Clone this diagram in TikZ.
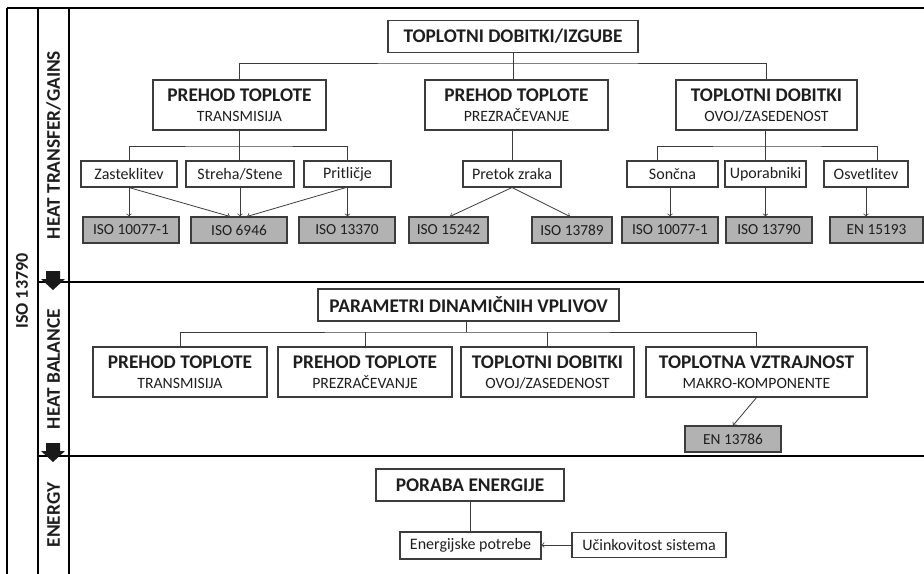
\documentclass[tikz,border=0pt]{standalone}
\usepackage{fontspec}
\setmainfont{Carlito}
\usetikzlibrary{calc}

\newlength{\upx}
\setlength{\upx}{0.75pt}
\newcommand{\subtxt}{\fontsize{11.8}{13}\selectfont\mdseries}

\definecolor{isogray}{RGB}{178,178,178}
\definecolor{edgegray}{RGB}{60,60,60}
\definecolor{inkgray}{RGB}{30,30,30}

\tikzset{
  headbox/.style={draw=edgegray, line width=0.8pt, inner sep=0pt, text=inkgray,
    minimum width=#1\upx, minimum height=32\upx, font=\fontsize{14.5}{16}\selectfont\bfseries},
  bigbox/.style={draw=edgegray, line width=0.8pt, inner sep=0pt, align=center, text=inkgray,
    minimum width=#1\upx, minimum height=50\upx, font=\fontsize{14.5}{16}\selectfont\bfseries},
  leafbox/.style={draw=edgegray, line width=0.8pt, inner sep=0pt, text=inkgray,
    minimum width=#1\upx, minimum height=26\upx, font=\fontsize{12}{14}\selectfont},
  isobox/.style={leafbox=#1, fill=isogray, font=\fontsize{11.5}{14}\selectfont},
  link/.style={draw=edgegray, line width=0.6pt},
  arr/.style={link, ->},
  sidelbl/.style={rotate=90, text=inkgray, font=\fontsize{14.5}{16}\selectfont\bfseries},
}

\begin{document}
\begin{tikzpicture}[x=0.75pt, y=-0.75pt]
  \useasboundingbox (0,0) rectangle (924,574);

  % --- frame: columns and section rules ---
  \draw[black, line width=1.1pt] (7,8) -- (924,8);
  \foreach \cx in {7,38,69} {
    \draw[black, line width=1.1pt] (\cx,8) -- (\cx,574);
  }
  \foreach \sy in {282,456} {
    \draw[black, line width=1.1pt] (38,\sy) -- (924,\sy);
  }

  % --- block arrows between sections ---
  \foreach \ay in {271,443} {
    \fill[black!90] (46,\ay) -- (60,\ay) -- (60,\ay+8) -- (65,\ay+8)
      -- (53,\ay+19) -- (41,\ay+8) -- (46,\ay+8) -- cycle;
  }

  % --- side labels ---
  \node[sidelbl, font=\fontsize{13.5}{15}\selectfont\bfseries] (lbliso) at (22,291) {ISO 13790};
  \node[sidelbl] (lblgain) at (53.5,145) {HEAT TRANSFER/GAINS};
  \node[sidelbl] (lblbal) at (53.5,369) {HEAT BALANCE};
  \node[sidelbl] (lblen) at (53.5,515) {ENERGY};

  % --- heat transfer / gains ---
  \node[headbox=250] (gains) at (513,36.5) {TOPLOTNI DOBITKI/IZGUBE};

  \node[bigbox=173] (trans) at (239.5,105) {PREHOD TOPLOTE\\[-1pt]{\subtxt TRANSMISIJA}};
  \node[bigbox=183] (vent) at (516.5,105) {PREHOD TOPLOTE\\[-1pt]{\subtxt PREZRAČEVANJE}};
  \node[bigbox=181] (dobit) at (766.5,105) {TOPLOTNI DOBITKI\\[-1pt]{\subtxt OVOJ/ZASEDENOST}};

  \coordinate (bus1) at (513,63);
  \draw[link] (gains.south) -- (bus1);
  \draw[link] (trans.north) |- (bus1) -| (dobit.north);
  \draw[link] (bus1) -- (bus1 |- vent.north);

  % leaves
  \node[leafbox=96] (zast) at (129,174) {Zasteklitev};
  \node[leafbox=108] (streha) at (240,174) {Streha/Stene};
  \node[leafbox=87] (prit) at (347.5,174) {Pritličje};
  \node[leafbox=98] (pretok) at (512,174) {Pretok zraka};
  \node[leafbox=91] (sonc) at (672.5,174) {Sončna};
  \node[leafbox=81] (upor) at (765.5,174) {Uporabniki};
  \node[leafbox=84] (osvet) at (866,174) {Osvetlitev};

  \coordinate (bus2) at (239.5,146);
  \draw[link] (trans.south) -- (trans.south |- streha.north);
  \draw[link] (zast.north) |- (bus2) -| (prit.north);
  \draw[link] (pretok.north) -- (pretok.north |- vent.south);
  \coordinate (bus3) at (767,146);
  \draw[link] (upor.north) -- (upor.north |- dobit.south);
  \draw[link] ($(sonc.north)+(-15.5,0)$) |- (bus3) -| ($(osvet.north)+(11,0)$);

  % standards
  \node[isobox=96] (isoa) at (131,230) {ISO 10077-1};
  \node[isobox=96] (isob) at (239,230) {ISO 6946};
  \node[isobox=96] (isoc) at (347,230) {ISO 13370};
  \node[isobox=79] (isod) at (448.5,230) {ISO 15242};
  \node[isobox=80] (isoe) at (572,230) {ISO 13789};
  \node[isobox=96] (isof) at (670,230) {ISO 10077-1};
  \node[isobox=86] (isog) at (769,230) {ISO 13790};
  \node[isobox=93] (isoh) at (876.5,230) {EN 15193};

  \draw[arr] (zast.south) -- (zast.south |- isoa.north);
  \draw[arr] (zast.south) -- ($(isob.north)+(-9,0)$);
  \draw[arr] (streha.south) -- (streha.south |- isob.north);
  \draw[arr] ($(prit.south)+(-1.5,0)$) -- ($(isob.north)+(8,0)$);
  \draw[arr] (prit.south) -- (prit.south |- isoc.north);
  \draw[arr] (pretok.south) -- ($(isod.north)+(1.5,0)$);
  \draw[arr] (pretok.south) -- ($(isoe.north)+(-2,0)$);
  \draw[arr] (isof.north |- sonc.south) -- (isof.north);
  \draw[arr] (upor.south) -- (upor.south |- isog.north);
  \draw[arr] (osvet.south) -- (osvet.south |- isoh.north);

  % --- heat balance ---
  \node[headbox=301] (param) at (468.5,305) {PARAMETRI DINAMIČNIH VPLIVOV};

  \node[bigbox=174] (btrans) at (180,372) {PREHOD TOPLOTE\\[-1pt]{\subtxt TRANSMISIJA}};
  \node[bigbox=174] (bvent) at (365,372) {PREHOD TOPLOTE\\[-1pt]{\subtxt PREZRAČEVANJE}};
  \node[bigbox=173] (bdobit) at (547.5,372) {TOPLOTNI DOBITKI\\[-1pt]{\subtxt OVOJ/ZASEDENOST}};
  \node[bigbox=221] (inert) at (756.5,372) {TOPLOTNA VZTRAJNOST\\[-1pt]{\subtxt MAKRO-KOMPONENTE}};

  \coordinate (bus4) at (466,332);
  \draw[link] (bus4 |- param.south) -- (bus4);
  \draw[link] (btrans.north) |- (bus4) -| (inert.north);
  \draw[link] (bvent.north) -- (bvent.north |- bus4);
  \draw[link] (bdobit.north) -- (bdobit.north |- bus4);

  \node[isobox=96] (enm) at (733,439) {EN 13786};
  \draw[arr] (inert.south) -- (enm.north);

  % --- energy ---
  \node[headbox=188] (poraba) at (470,485) {PORABA ENERGIJE};
  \node[leafbox=141, minimum height=27\upx] (potreb) at (470.5,545.5) {Energijske potrebe};
  \node[leafbox=154, minimum height=25\upx] (ucin) at (649,545) {Učinkovitost sistema};

  \draw[link] (poraba.south) -- (poraba.south |- potreb.north);
  \draw[arr] (ucin.west) -- (ucin.west -| potreb.east);

\end{tikzpicture}
\end{document}
